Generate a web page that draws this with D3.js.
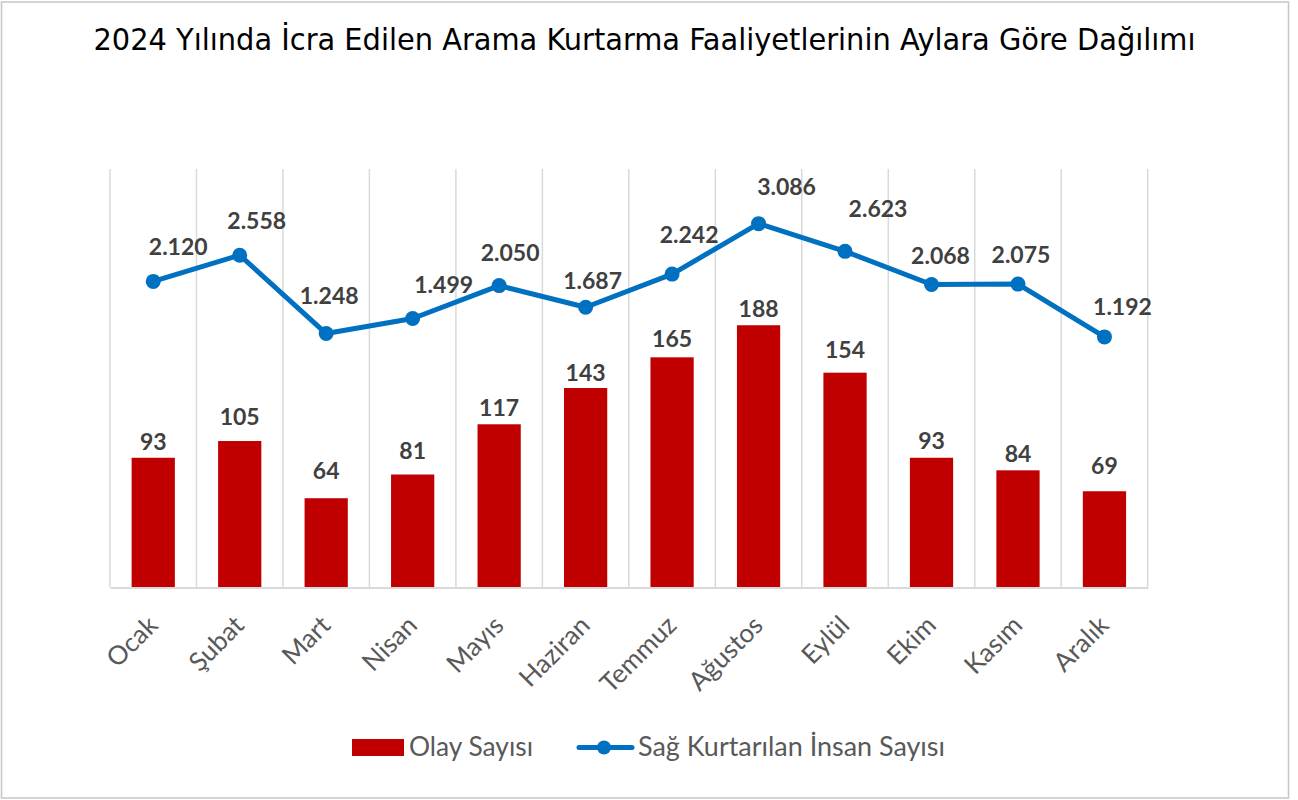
<!DOCTYPE html>
<html><head><meta charset="utf-8">
<script src="https://cdn.jsdelivr.net/npm/d3@7"></script>
<style>body{margin:0;background:#fff}svg{display:block}</style>
</head><body><svg id="c" width="1298" height="800"></svg>
<script>
const months = ["Ocak","Şubat","Mart","Nisan","Mayıs","Haziran","Temmuz","Ağustos","Eylül","Ekim","Kasım","Aralık"];
const olaySayisi = [93,105,64,81,117,143,165,188,154,93,84,69];
const kurtarilan = [2120,2558,1248,1499,2050,1687,2242,3086,2623,2068,2075,1192];
const barDomain = [0,300];
const lineDomain = [-3000,4000];
const seriesNames = ["Olay Sayısı","Sağ Kurtarılan İnsan Sayısı"];
const titleText = "2024 Yılında İcra Edilen Arama Kurtarma Faaliyetlerinin Aylara Göre Dağılımı";
// layout tweaks: manual label nudges (px), as placed in the original
const lineLabelDx = [25,17,3,31,11,7,17,28,33,9,3,18];
const lineLabelDy = [-34.5,-34.5,-37.5,-33.5,-33,-26,-39,-37,-42,-29,-29,-30];
const barLabelDy = [-16,-24,-27,-24,-16,-15,-18,-16,-23,-17,-16,-25];

const svg = d3.select("#c");
const L=110, R=1147.7, T=169, B=587.5;
const barColor="#C00000", lineColor="#0070C0", gridColor="#d9d9d9";
const trFmt = d3.formatLocale({decimal:",",thousands:".",grouping:[3],currency:["₺",""]}).format(",d");

svg.append("rect").attr("x",1.5).attr("y",2).attr("width",1287).attr("height",796)
  .attr("fill","#fff").attr("stroke","#c6c6c6").attr("stroke-width",1.5);

svg.append("text").attr("x",644.5).attr("y",50).attr("text-anchor","middle")
  .attr("font-family","'DejaVu Sans Condensed','DejaVu Sans',sans-serif").attr("font-size",30)
  .attr("textLength",1102).attr("lengthAdjust","spacingAndGlyphs")
  .attr("fill","#000").text(titleText);

const x = d3.scaleBand().domain(months).range([L,R]).padding(0);
const yBar = d3.scaleLinear().domain(barDomain).range([B,T]);
const yLine = d3.scaleLinear().domain(lineDomain).range([B,T]);
const bw = x.bandwidth();

// vertical gridlines at category boundaries
const bounds = months.map(m=>x(m)).concat([R]);
svg.append("g").selectAll("line").data(bounds).join("line")
  .attr("x1",d=>d).attr("x2",d=>d).attr("y1",T).attr("y2",B)
  .attr("stroke",gridColor).attr("stroke-width",1.5);

// bars
svg.append("g").selectAll("rect").data(months).join("rect")
  .attr("x",(m)=>x(m)+bw*0.25).attr("width",bw*0.5)
  .attr("y",(m,i)=>yBar(olaySayisi[i])).attr("height",(m,i)=>B-yBar(olaySayisi[i]))
  .attr("fill",barColor);

// baseline axis
const xAxis = svg.append("g").attr("transform",`translate(0,${B})`).call(d3.axisBottom(x).tickSize(0).tickFormat(""));
xAxis.select(".domain").attr("stroke",gridColor).attr("stroke-width",2);

// x labels rotated
svg.append("g").selectAll("text").data(months).join("text")
  .attr("transform",m=>`translate(${x(m)+bw/2+6},${B+39.5}) rotate(-45)`)
  .attr("text-anchor","end")
  .attr("font-family","Lato, sans-serif").attr("font-size",26).attr("fill","#595959")
  .text(m=>m);

// bar labels
svg.append("g").selectAll("text").data(months).join("text")
  .attr("x",m=>x(m)+bw/2).attr("y",(m,i)=>yBar(olaySayisi[i])+barLabelDy[i]+8)
  .attr("text-anchor","middle").attr("font-family","Lato, sans-serif").attr("font-weight","bold")
  .attr("font-size",23).attr("fill","#404040").text((m,i)=>olaySayisi[i]);

// line
const line = d3.line().x(d=>x(d.m)+bw/2).y(d=>yLine(d.v));
const pts = months.map((m,i)=>({m,v:kurtarilan[i]}));
svg.append("path").datum(pts).attr("d",line).attr("fill","none")
  .attr("stroke",lineColor).attr("stroke-width",5).attr("stroke-linejoin","round").attr("stroke-linecap","round");
svg.append("g").selectAll("circle").data(pts).join("circle")
  .attr("cx",d=>x(d.m)+bw/2).attr("cy",d=>yLine(d.v)).attr("r",7.5).attr("fill",lineColor);
svg.append("g").selectAll("text").data(pts).join("text")
  .attr("x",(d,i)=>x(d.m)+bw/2+lineLabelDx[i]).attr("y",(d,i)=>yLine(d.v)+lineLabelDy[i]+8)
  .attr("text-anchor","middle").attr("font-family","Lato, sans-serif").attr("font-weight","bold")
  .attr("font-size",23).attr("fill","#404040").text(d=>trFmt(d.v));

// legend
const lg = svg.append("g");
lg.append("rect").attr("x",352).attr("y",739).attr("width",52).attr("height",17).attr("fill",barColor);
lg.append("text").attr("x",409).attr("y",756).attr("font-family","Lato, sans-serif").attr("font-size",26)
  .attr("textLength",124).attr("lengthAdjust","spacingAndGlyphs")
  .attr("fill","#595959").text(seriesNames[0]);
lg.append("line").attr("x1",579).attr("x2",632).attr("y1",747.5).attr("y2",747.5)
  .attr("stroke",lineColor).attr("stroke-width",5).attr("stroke-linecap","round");
lg.append("circle").attr("cx",604).attr("cy",747.5).attr("r",7).attr("fill",lineColor);
lg.append("text").attr("x",638).attr("y",756).attr("font-family","Lato, sans-serif").attr("font-size",26)
  .attr("textLength",307).attr("lengthAdjust","spacingAndGlyphs")
  .attr("fill","#595959").text(seriesNames[1]);
</script></body></html>
